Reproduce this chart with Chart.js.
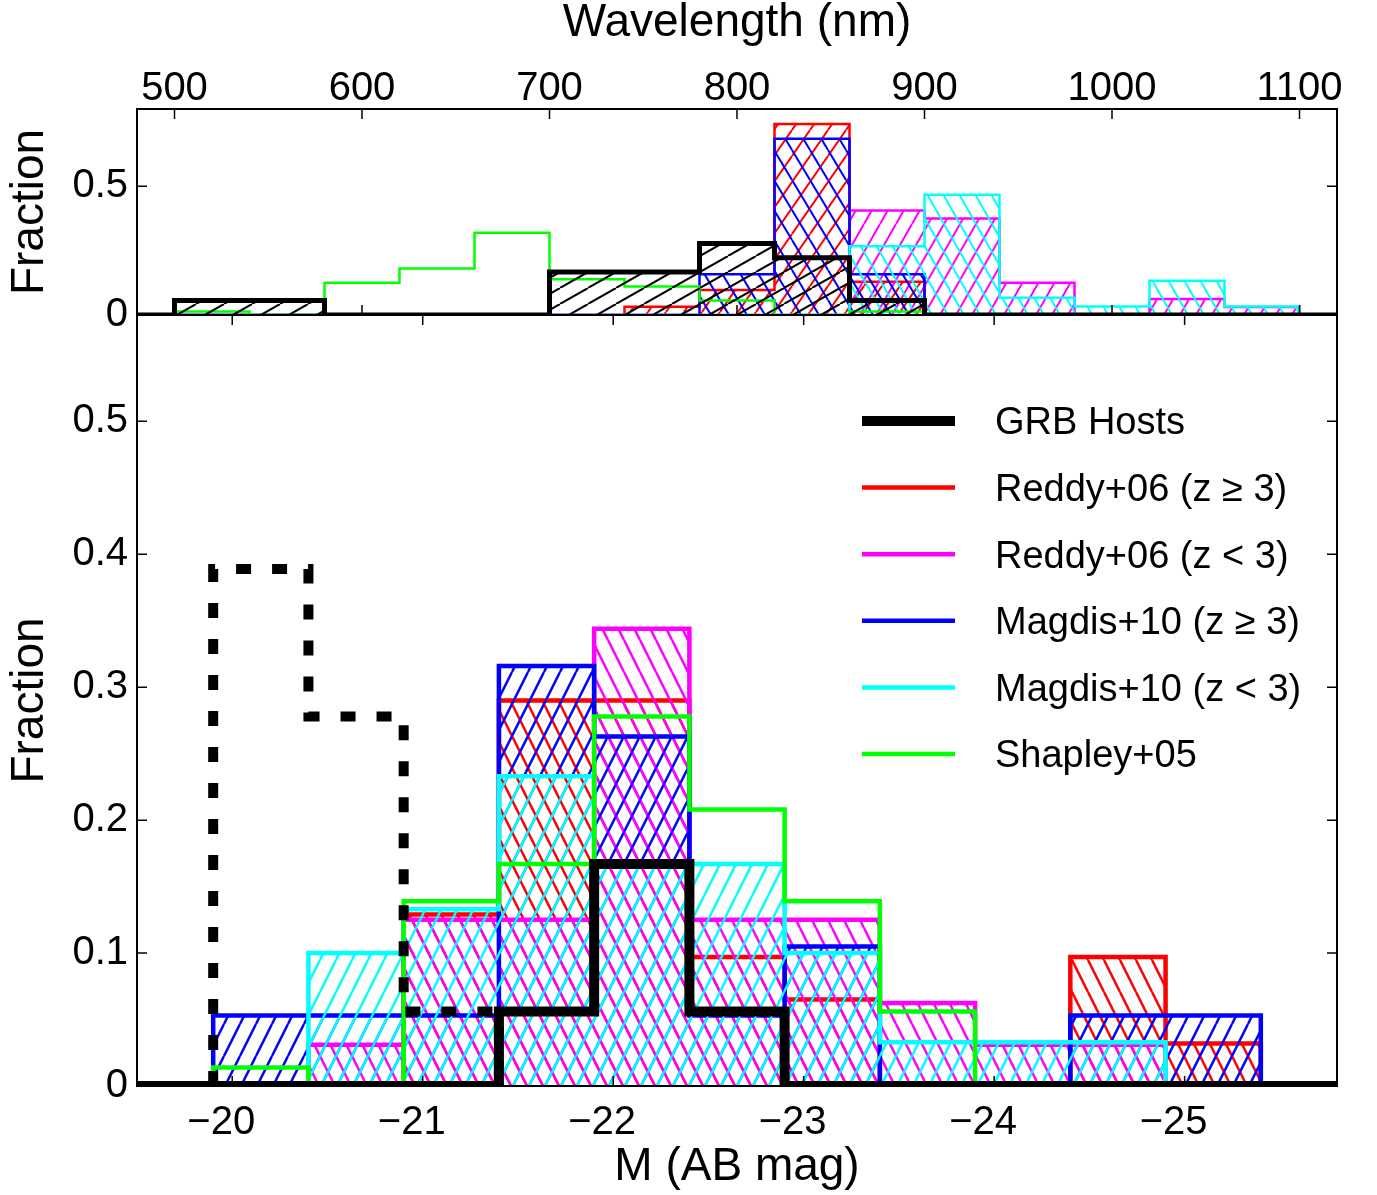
<!DOCTYPE html>
<html>
<head>
<meta charset="utf-8">
<title>GRB host luminosity / wavelength histograms</title>
<script src="https://cdn.jsdelivr.net/npm/chart.js@4.4.1/dist/chart.umd.min.js"></script>
<style>
  html, body { margin: 0; padding: 0; background: #fff; }
  #histChart { display: block; }
</style>
</head>
<body>
<canvas id="histChart" width="1377" height="1195"></canvas>
<script>
// ---- data (fractions per bin) ----
// top panel: rest wavelength, 40 nm bins
var waveEdges = [500, 540, 580, 620, 660, 700, 740, 780, 820, 860, 900, 940, 980, 1020, 1060, 1100];
var grbWave     = [0.056, 0.056, 0, 0, 0, 0.167, 0.167, 0.278, 0.222, 0.056, 0, 0, 0, 0, 0];
var reddyHiWave = [0, 0, 0, 0, 0, 0, 0.032, 0.097, 0.742, 0.129, 0, 0, 0, 0, 0];
var reddyLoWave = [0, 0, 0, 0, 0, 0, 0, 0, 0, 0.406, 0.375, 0.125, 0, 0.0625, 0.031];
var magdisHiWave = [0, 0, 0, 0, 0, 0, 0, 0.158, 0.684, 0.158, 0, 0, 0, 0, 0];
var magdisLoWave = [0, 0, 0, 0, 0, 0, 0, 0, 0, 0.267, 0.467, 0.067, 0.033, 0.133, 0.033];
var shapleyWave = [0.014, 0, 0.125, 0.181, 0.319, 0.139, 0.111, 0.056, 0, 0.014, 0, 0, 0, 0, 0];

// bottom panel: absolute magnitude, 0.5 mag bins
var magEdges = [-19.9, -20.4, -20.9, -21.4, -21.9, -22.4, -22.9, -23.4, -23.9, -24.4, -24.9, -25.4];
var grbMag       = [0, 0, 0, 0.056, 0.167, 0.056, 0, 0, 0, 0, 0];
var grbDashMag   = [0.389, 0.278, 0.056];   // dashed outline only covers the first three bins
var reddyHiMag   = [0, 0, 0.129, 0.290, 0.290, 0.097, 0.065, 0, 0, 0.097, 0.032];
var reddyLoMag   = [0, 0.031, 0.125, 0.125, 0.344, 0.125, 0.125, 0.0625, 0.031, 0.031, 0];
var magdisHiMag  = [0.053, 0.053, 0.053, 0.316, 0.263, 0.053, 0.105, 0, 0, 0.053, 0.053];
var magdisLoMag  = [0, 0.1, 0.133, 0.233, 0.167, 0.167, 0.1, 0.033, 0.033, 0.033, 0];
var shapleyMag   = [0.014, 0, 0.139, 0.167, 0.278, 0.208, 0.139, 0.056, 0, 0, 0];

// axes
var waveTicks = [500, 600, 700, 800, 900, 1000, 1100];
var magTicks = [-20, -21, -22, -23, -24, -25];
var fracTopTicks = [0, 0.5];
var fracBotTicks = [0, 0.1, 0.2, 0.3, 0.4, 0.5];

var legendLabels = ['GRB Hosts', 'Reddy+06 (z \u2265 3)', 'Reddy+06 (z < 3)', 'Magdis+10 (z \u2265 3)', 'Magdis+10 (z < 3)', 'Shapley+05'];
var legendColors = ['#000000', '#ff0000', '#ff00ff', '#0000ff', '#00ffff', '#00ff00'];

var FONT = '"Liberation Sans", Arial, Helvetica, sans-serif';
var WAVE_MIN = 480, WAVE_MAX = 1120;
var MAG_MIN = -25.8, MAG_MAX = -19.5;

// histogram outline as stepped points; lo/hi (if given) run the zero line out to the axis ends
function histPoints(edges, vals, lo, hi) {
  var pts = [];
  if (lo !== undefined) pts.push({x: lo, y: 0});
  pts.push({x: edges[0], y: 0});
  for (var i = 0; i < vals.length; i++) {
    pts.push({x: edges[i], y: vals[i]});
  }
  pts.push({x: edges[vals.length], y: 0});
  if (hi !== undefined) pts.push({x: hi, y: 0});
  return pts;
}

var canvas = document.getElementById('histChart');
var ctx = canvas.getContext('2d');

function hatch(color, dir, w, h, lw) {
  var c = document.createElement('canvas');
  c.width = w; c.height = h;
  var g = c.getContext('2d');
  g.strokeStyle = color;
  g.lineWidth = lw;
  g.beginPath();
  for (var k = -1; k <= 1; k++) {
    if (dir == '/') { g.moveTo(k * w, h); g.lineTo(k * w + w, 0); }
    else { g.moveTo(k * w, 0); g.lineTo(k * w + w, h); }
  }
  g.stroke();
  return ctx.createPattern(c, 'repeat');
}

function series(label, pts, color, width, xAxis, yAxis, order, pattern, dash) {
  return {
    label: label,
    data: pts,
    xAxisID: xAxis,
    yAxisID: yAxis,
    borderColor: color,
    borderWidth: width,
    borderDash: dash || [],
    backgroundColor: pattern || 'transparent',
    fill: pattern ? 'origin' : false,
    stepped: true,
    pointRadius: 0,
    order: order
  };
}

var datasets = [
  // top panel
  series('GRB Hosts', histPoints(waveEdges, grbWave, WAVE_MIN, WAVE_MAX), '#000000', 5, 'xw', 'yt', 1, hatch('#000000', '/', 28, 16, 2)),
  series('Shapley+05', histPoints(waveEdges, shapleyWave, WAVE_MIN, WAVE_MAX), '#00ff00', 2.5, 'xw', 'yt', 2),
  series('Magdis+10 (z < 3)', histPoints(waveEdges, magdisLoWave, WAVE_MIN, WAVE_MAX), '#00ffff', 2.5, 'xw', 'yt', 3, hatch('#00ffff', '\\', 16, 28, 2)),
  series('Magdis+10 (z >= 3)', histPoints(waveEdges, magdisHiWave, WAVE_MIN, WAVE_MAX), '#0000ff', 2.5, 'xw', 'yt', 4, hatch('#0000ff', '\\', 18, 30, 2)),
  series('Reddy+06 (z < 3)', histPoints(waveEdges, reddyLoWave, WAVE_MIN, WAVE_MAX), '#ff00ff', 2.5, 'xw', 'yt', 5, hatch('#ff00ff', '/', 16, 28, 2)),
  series('Reddy+06 (z >= 3)', histPoints(waveEdges, reddyHiWave, WAVE_MIN, WAVE_MAX), '#ff0000', 2.5, 'xw', 'yt', 6, hatch('#ff0000', '/', 18, 26, 2)),
  // bottom panel
  series('GRB Hosts', histPoints(magEdges, grbMag, MAG_MAX, MAG_MIN), '#000000', 10, 'xm', 'yb', 1),
  series('GRB Hosts (dashed)', histPoints(magEdges, grbDashMag), '#000000', 10, 'xm', 'yb', 2, null, [15, 21]),
  series('Shapley+05', histPoints(magEdges, shapleyMag, MAG_MAX, MAG_MIN), '#00ff00', 4.5, 'xm', 'yb', 3),
  series('Magdis+10 (z < 3)', histPoints(magEdges, magdisLoMag, MAG_MAX, MAG_MIN), '#00ffff', 4.5, 'xm', 'yb', 4, hatch('#00ffff', '/', 16, 32, 2.5)),
  series('Magdis+10 (z >= 3)', histPoints(magEdges, magdisHiMag, MAG_MAX, MAG_MIN), '#0000ff', 4.5, 'xm', 'yb', 5, hatch('#0000ff', '/', 16, 32, 2.5)),
  series('Reddy+06 (z < 3)', histPoints(magEdges, reddyLoMag, MAG_MAX, MAG_MIN), '#ff00ff', 4.5, 'xm', 'yb', 6, hatch('#ff00ff', '\\', 16, 32, 2.5)),
  series('Reddy+06 (z >= 3)', histPoints(magEdges, reddyHiMag, MAG_MAX, MAG_MIN), '#ff0000', 4.5, 'xm', 'yb', 7, hatch('#ff0000', '\\', 16, 32, 2.5))
];

// inward ticks on all four sides, the box, and the legend inside the lower panel
var frameTicks = {
  id: 'frameTicks',
  afterDatasetsDraw: function(chart) {
    var c = chart.ctx, a = chart.chartArea, s = chart.scales;
    var mid = s.yt.bottom;
    var len = 10;
    c.save();
    c.strokeStyle = '#000';
    c.lineWidth = 2;
    c.strokeRect(a.left, a.top, a.right - a.left, a.bottom - a.top);
    c.beginPath();
    c.moveTo(a.left, mid); c.lineTo(a.right, mid);
    c.stroke();

    c.lineWidth = 1.5;
    c.beginPath();
    waveTicks.forEach(function(v) {
      var x = s.xw.getPixelForValue(v);
      c.moveTo(x, a.top); c.lineTo(x, a.top + len);
      c.moveTo(x, mid); c.lineTo(x, mid - len);
    });
    magTicks.forEach(function(v) {
      var x = s.xm.getPixelForValue(v);
      c.moveTo(x, a.bottom); c.lineTo(x, a.bottom - len);
      c.moveTo(x, mid); c.lineTo(x, mid + len);
    });
    fracTopTicks.forEach(function(v) {
      var y = s.yt.getPixelForValue(v);
      c.moveTo(a.left, y); c.lineTo(a.left + len, y);
      c.moveTo(a.right, y); c.lineTo(a.right - len, y);
    });
    fracBotTicks.forEach(function(v) {
      var y = s.yb.getPixelForValue(v);
      c.moveTo(a.left, y); c.lineTo(a.left + len, y);
      c.moveTo(a.right, y); c.lineTo(a.right - len, y);
    });
    c.stroke();

    // legend
    var rowY = 421, rowStep = 66.6;
    c.font = '38px ' + FONT;
    c.textBaseline = 'middle';
    c.textAlign = 'left';
    c.fillStyle = '#000';
    for (var i = 0; i < legendLabels.length; i++) {
      var y = rowY + i * rowStep;
      c.strokeStyle = legendColors[i];
      c.lineWidth = i == 0 ? 10 : 4.5;
      c.beginPath();
      c.moveTo(862, y); c.lineTo(955, y);
      c.stroke();
      c.fillText(legendLabels[i], 995, y + 3);
    }
    c.restore();
  }
};

function fixSize(prop, val) {
  return function(scale) {
    scale[prop] = val;
    scale.paddingLeft = 0; scale.paddingRight = 0;
    scale.paddingTop = 0; scale.paddingBottom = 0;
  };
}

function setTicks(list) {
  return function(scale) {
    scale.ticks = list.map(function(v) { return {value: v}; });
  };
}

var tickFont = {family: FONT, size: 40};
var titleFont = {family: FONT, size: 46, lineHeight: 1};

var histChart = new Chart(canvas, {
  type: 'line',
  data: { datasets: datasets },
  plugins: [frameTicks],
  options: {
    responsive: false,
    animation: false,
    layout: { padding: { right: 40 } },
    plugins: {
      legend: { display: false },
      tooltip: { enabled: false }
    },
    scales: {
      xw: {
        type: 'linear', position: 'top', min: WAVE_MIN, max: WAVE_MAX,
        grid: { display: false, drawTicks: false }, border: { display: false },
        ticks: {
          font: tickFont, color: '#000', padding: -4, maxRotation: 0,
          callback: function(v) { return '' + v; }
        },
        afterBuildTicks: setTicks(waveTicks),
        afterFit: fixSize('height', 109),
        title: { display: true, text: 'Wavelength (nm)', font: titleFont, color: '#000', padding: {top: 0, bottom: 0} }
      },
      xm: {
        type: 'linear', position: 'bottom', min: MAG_MIN, max: MAG_MAX, reverse: true,
        grid: { display: false, drawTicks: false }, border: { display: false },
        ticks: {
          font: tickFont, color: '#000', padding: 13, maxRotation: 0, labelOffset: -11,
          callback: function(v) { return v < 0 ? '\u2212' + Math.abs(v) : '' + v; }
        },
        afterBuildTicks: setTicks(magTicks),
        afterFit: fixSize('height', 109),
        title: { display: true, text: 'M (AB mag)', font: titleFont, color: '#000', padding: {top: 0, bottom: 5} }
      },
      yb: {
        type: 'linear', position: 'left', stack: 'panels', stackWeight: 771, min: 0, max: 0.58,
        grid: { display: false, drawTicks: false }, border: { display: false },
        ticks: { font: tickFont, color: '#000', padding: 9 },
        afterBuildTicks: setTicks(fracBotTicks),
        afterFit: fixSize('width', 137),
        title: { display: true, text: 'Fraction', font: titleFont, color: '#000', padding: {top: 7, bottom: 0} }
      },
      yt: {
        type: 'linear', position: 'left', stack: 'panels', stackWeight: 206, min: 0, max: 0.8,
        grid: { display: false, drawTicks: false }, border: { display: false },
        ticks: { font: tickFont, color: '#000', padding: 9 },
        afterBuildTicks: setTicks(fracTopTicks),
        afterFit: fixSize('width', 137),
        title: { display: true, text: 'Fraction', font: titleFont, color: '#000', padding: {top: 7, bottom: 0} }
      }
    }
  }
});
</script>
</body>
</html>
